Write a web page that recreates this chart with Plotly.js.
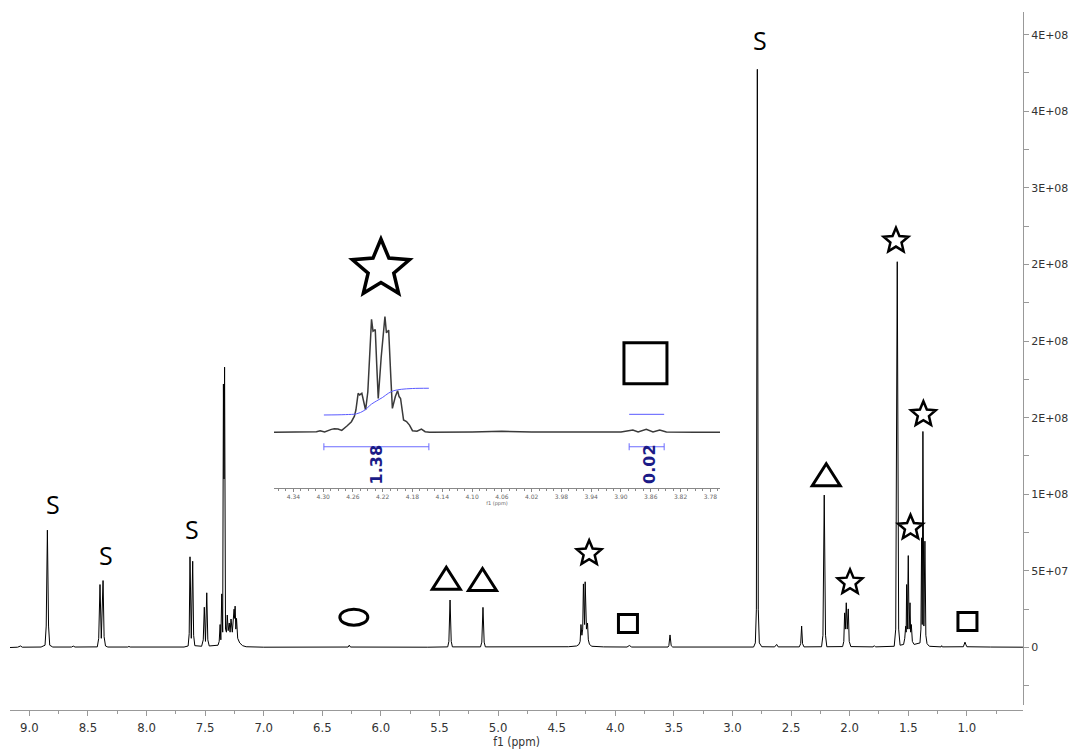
<!DOCTYPE html>
<html>
<head>
<meta charset="utf-8">
<script src="https://cdn.plot.ly/plotly-3.0.1.min.js"></script>
<style>html,body{margin:0;padding:0;background:#fff;}#chart{width:1075px;height:749px;}</style>
</head>
<body>
<div id="chart"></div>
<script>
// ---- Main 1H NMR trace (ppm, intensity) ----
var mainPpm = [
  9.165, 9.10, 9.075, 9.06, 8.90, 8.866, 8.856, 8.846, 8.836, 8.826, 8.80,
  8.64, 8.625, 8.61, 8.42, 8.408, 8.397, 8.386, 8.371, 8.362, 8.35, 8.33,
  8.16, 8.15, 8.14, 7.70, 7.69, 7.68,
  7.645, 7.636, 7.629, 7.618, 7.606, 7.598, 7.588,
  7.53, 7.516, 7.507, 7.497, 7.486, 7.477, 7.465,
  7.39, 7.380, 7.372, 7.366, 7.358, 7.350, 7.344, 7.339, 7.334, 7.326,
  7.318, 7.311, 7.303, 7.294, 7.287, 7.279, 7.268, 7.253, 7.249, 7.244, 7.238, 7.232, 7.222, 7.205, 7.18, 7.15,
  7.0, 6.50, 6.28, 6.27, 6.26, 5.60,
  5.43, 5.420, 5.410, 5.400, 5.39,
  5.15, 5.139, 5.129, 5.119, 5.109,
  4.50, 4.40, 4.33, 4.31, 4.30, 4.293, 4.285, 4.278, 4.272, 4.269, 4.266, 4.262, 4.257, 4.254, 4.251, 4.246, 4.237, 4.23, 4.22, 4.20,
  4.10, 3.90, 3.88, 3.86,
  3.55, 3.543, 3.533, 3.523, 3.51,
  3.00, 2.95, 2.93, 2.82, 2.805, 2.796, 2.788, 2.780, 2.771, 2.75,
  2.64, 2.623, 2.61, 2.43, 2.418, 2.410, 2.402, 2.39,
  2.24, 2.228, 2.217, 2.206, 2.195,
  2.06, 2.050, 2.043, 2.037, 2.029, 2.021, 2.012, 2.004, 1.99,
  1.80, 1.79, 1.78, 1.62, 1.607, 1.594, 1.582, 1.570,
  1.54, 1.530, 1.522, 1.518, 1.514, 1.508, 1.500, 1.493, 1.485, 1.480, 1.474, 1.465, 1.45,
  1.40, 1.392, 1.386, 1.381, 1.375, 1.367, 1.358, 1.350, 1.34, 1.32,
  1.22, 1.215, 1.21, 1.03, 1.022, 1.016, 1.010, 1.000, 0.80, 0.521
];
var mainInt = [
  0, 2e5, 1.0e6, 2e5, 3e5, 1.5e6, 1.4e7, 7.66e7, 1.4e7, 1.5e6, 3e5,
  3e5, 9e5, 3e5, 4e5, 6e6, 4.11e7, 6e6, 4.37e7, 7e6, 1e6, 3e5,
  3e5, 7e5, 3e5, 3e5, 6e5, 3e5,
  1e6, 9e6, 5.92e7, 6e6, 5.63e7, 8e6, 1.2e6,
  8e5, 5e6, 2.63e7, 4e6, 3.57e7, 5e6, 1e6,
  1.5e6, 4e6, 1.5e7, 5e6, 3.5e7, 1.0e7, 1.72e8, 1.1e8, 1.83e8, 1.2e7,
  1.0e7, 2.12e7, 1.1e7, 1.6e7, 1.0e7, 1.86e7, 1.0e7, 2.5e7, 1.9e7, 2.7e7, 1.2e7, 1.9e7, 6e6, 3e6, 1.2e6, 5e5,
  2e5, 2e5, 3e5, 1.5e6, 3e5, 2e5,
  4e5, 4e6, 3.1e7, 4e6, 4e5,
  4e5, 3.5e6, 2.62e7, 3.5e6, 4e5,
  3e5, 5e5, 1e6, 2e6, 4e6, 1.5e7, 8e6, 1.2e7, 4.15e7, 3.0e7, 3.7e7, 1.5e7, 4.29e7, 3.2e7, 3.7e7, 1.2e7, 1.6e7, 5e6, 2e6, 8e5,
  4e5, 3e5, 1.3e6, 3e5,
  3e5, 1.2e6, 8.2e6, 1.2e6, 3e5,
  3e5, 6e5, 2e5, 3e5, 3e6, 2.5e7, 3.774e8, 2.5e7, 3e6, 5e5,
  4e5, 2e6, 4e5, 4e5, 2.5e6, 1.4e7, 2.5e6, 4e5,
  5e5, 8e6, 9.95e7, 8e6, 5e5,
  6e5, 4e6, 2.26e7, 1.2e7, 2.92e7, 1.2e7, 2.52e7, 4e6, 6e5,
  4e5, 1.2e6, 4e5, 8e5, 1.2e7, 2.518e8, 1.2e7, 1.5e6,
  2e6, 6e6, 1.39e7, 1.0e7, 4.11e7, 1.2e7, 6.0e7, 1.2e7, 2.92e7, 1e7, 1.5e7, 4e6, 2e6,
  3e6, 1.2e7, 7.16e7, 1.5e7, 1.41e8, 1.4e7, 6.94e7, 8e6, 2.5e6, 8e5,
  4e5, 1.2e6, 4e5, 5e5, 2.2e6, 3.5e6, 2.2e6, 5e5, 3e5, 2e5
];

// ---- Inset (expanded 4.36-3.77 ppm region) ----
var insetPpm = [
  4.366, 4.320, 4.309, 4.304, 4.298, 4.289, 4.285, 4.280, 4.275, 4.268, 4.262, 4.258, 4.256,
  4.253, 4.251, 4.248, 4.245, 4.243, 4.240, 4.235, 4.233, 4.230, 4.228, 4.226, 4.222,
  4.217, 4.215, 4.212, 4.209, 4.207, 4.203, 4.200, 4.198, 4.196, 4.192, 4.188, 4.184,
  4.180, 4.174, 4.168, 4.163, 4.157, 4.10, 4.060, 4.02, 3.90, 3.884, 3.877, 3.866,
  3.857, 3.848, 3.839, 3.80, 3.767
];
var insetInt = [
  0, 1.2e5, 2.5e5, 6.2e5, 1.2e5, 1.1e6, 1.36e6, 1.24e6, 7.4e5, 2.36e6, 3.97e6, 6.0e6, 8.3e6,
  1.45e7, 1.39e7, 1.45e7, 1.1e7, 8.3e6, 1.5e7, 4.2e7, 3.76e7, 3.82e7, 2.5e7, 1.26e7, 2.8e7,
  4.3e7, 3.7e7, 3.8e7, 2.0e7, 8.9e6, 1.33e7, 1.55e7, 1.33e7, 1.26e7, 4.6e6, 4.0e6, 2.7e6,
  6.2e5, 4e5, 1.24e6, 2.5e5, 0, 1e5, 4e5, 1e5, 1e5, 8.7e5, 1.2e5, 1.1e6,
  1.2e5, 8.7e5, 1.2e5, 0, 0
];
// integral curves
var integ1Ppm = [4.299, 4.27, 4.255, 4.245, 4.235, 4.228, 4.220, 4.212, 4.205, 4.195, 4.180, 4.158];
var integ1Val = [6.45e6, 6.6e6, 6.9e6, 8.1e6, 1.05e7, 1.17e7, 1.3e7, 1.46e7, 1.55e7, 1.6e7, 1.63e7, 1.64e7];
var integ2Ppm = [3.889, 3.842];
var integ2Val = [6.7e6, 6.7e6];
// integration ranges and values
var rangeStart = [4.299, 3.889];
var rangeEnd = [4.158, 3.842];
var integLabels = ['1.38', '0.02'];

// ---- axis tick labels ----
var yTickVals = [0, 5e7, 1e8, 1.5e8, 2e8, 2.5e8, 3e8, 3.5e8, 4e8];
var yTickText = ['0', '5E+07', '1E+08', '2E+08', '2E+08', '2E+08', '3E+08', '4E+08', '4E+08'];

// ---- build traces ----
var traces = [];
traces.push({x: mainPpm, y: mainInt, type: 'scatter', mode: 'lines',
  line: {color: '#000', width: 1}, xaxis: 'x', yaxis: 'y', hoverinfo: 'skip', showlegend: false});
traces.push({x: insetPpm, y: insetInt, type: 'scatter', mode: 'lines',
  line: {color: '#3a3a3a', width: 1.5}, xaxis: 'x2', yaxis: 'y2', hoverinfo: 'skip', showlegend: false});
traces.push({x: integ1Ppm, y: integ1Val, type: 'scatter', mode: 'lines', line: {color: '#5a5aff', width: 1, shape: 'spline'},
  xaxis: 'x2', yaxis: 'y2', hoverinfo: 'skip', showlegend: false});
traces.push({x: integ2Ppm, y: integ2Val, type: 'scatter', mode: 'lines', line: {color: '#5a5aff', width: 1},
  xaxis: 'x2', yaxis: 'y2', hoverinfo: 'skip', showlegend: false});
var barY = -5.36e6;
for (var i = 0; i < rangeStart.length; i++) {
  traces.push({x: [rangeStart[i], rangeEnd[i]], y: [barY, barY], type: 'scatter', mode: 'lines+markers',
    line: {color: '#6b6bff', width: 1}, marker: {symbol: 'line-ns-open', size: 5, color: '#6b6bff', line: {color: '#6b6bff', width: 1}},
    xaxis: 'x2', yaxis: 'y2', hoverinfo: 'skip', showlegend: false});
}

// ---- symbol shapes ----
function starPath(r, k) {
  var pts = [];
  for (var i = 0; i < 10; i++) {
    var a = Math.PI / 2 + i * Math.PI / 5;
    var rr = (i % 2 === 0) ? r : r * k;
    pts.push((rr * Math.cos(a)).toFixed(2) + ',' + (rr * Math.sin(a)).toFixed(2));
  }
  return 'M' + pts.join('L') + 'Z';
}
function triPath(w, h) { return 'M' + (-w/2) + ',' + (-h/2) + 'L' + (w/2) + ',' + (-h/2) + 'L0,' + (h/2) + 'Z'; }
function sqPath(w, h) { return 'M' + (-w/2) + ',' + (-h/2) + 'L' + (w/2) + ',' + (-h/2) + 'L' + (w/2) + ',' + (h/2) + 'L' + (-w/2) + ',' + (h/2) + 'Z'; }
function sym(path, xref, yref, xa, ya, lw) {
  return {type: 'path', path: path, xref: xref, yref: yref, xsizemode: 'pixel', ysizemode: 'pixel',
    xanchor: xa, yanchor: ya, line: {color: '#000', width: lw}, fillcolor: 'rgba(0,0,0,0)', layer: 'above'};
}
var smallStar = starPath(13, 0.45);
var shapes = [
  sym(smallStar, 'x', 'y', 4.223, 6.15e7, 2.5),
  sym(smallStar, 'x', 'y', 1.997, 4.25e7, 2.5),
  sym(smallStar, 'x', 'y', 1.605, 2.655e8, 2.5),
  sym(smallStar, 'x', 'y', 1.481, 7.82e7, 2.5),
  sym(smallStar, 'x', 'y', 1.371, 1.522e8, 2.5),
  sym(triPath(28, 22), 'x', 'y', 5.442, 4.52e7, 3),
  sym(triPath(28, 22), 'x', 'y', 5.133, 4.44e7, 3),
  sym(triPath(28, 22), 'x', 'y', 2.200, 1.128e8, 3),
  sym(sqPath(19, 18), 'x', 'y', 3.892, 1.57e7, 3),
  sym(sqPath(19, 18), 'x', 'y', 0.995, 1.70e7, 3),
  {type: 'circle', xref: 'x', yref: 'y', xsizemode: 'pixel', ysizemode: 'pixel', xanchor: 6.231, yanchor: 1.98e7,
    x0: -14, x1: 14, y0: -8, y1: 8, line: {color: '#000', width: 3}, fillcolor: 'rgba(0,0,0,0)'},
  sym(starPath(30, 0.45), 'paper', 'paper', 0.3662, 0.6318, 3.5),
  sym(sqPath(43, 41), 'paper', 'paper', 0.6273, 0.4967, 3)
];

var sFont = {family: 'Open Sans, DejaVu Sans, sans-serif', size: 25, color: '#000'};
var annotations = [
  {x: 8.795, y: 9.38e7, xref: 'x', yref: 'y', text: 'S', showarrow: false, font: sFont},
  {x: 8.350, y: 6.04e7, xref: 'x', yref: 'y', text: 'S', showarrow: false, font: sFont},
  {x: 7.616, y: 7.72e7, xref: 'x', yref: 'y', text: 'S', showarrow: false, font: sFont},
  {x: 2.765, y: 3.967e8, xref: 'x', yref: 'y', text: 'S', showarrow: false, font: sFont}
];
var labelPos = [4.228, 3.862];
for (var j = 0; j < integLabels.length; j++) {
  annotations.push({x: labelPos[j], y: -1.2e7, xref: 'x2', yref: 'y2', text: '<b>' + integLabels[j] + '</b>',
    textangle: -90, showarrow: false, font: {family: 'DejaVu Sans, Verdana, sans-serif', size: 16, color: '#1b1b87'}});
}

var condFont = 'DejaVu Sans Condensed, Liberation Sans Narrow, DejaVu Sans, sans-serif';
var layout = {
  width: 1075, height: 749,
  margin: {l: 10, r: 52, t: 12, b: 39},
  paper_bgcolor: '#fff', plot_bgcolor: 'rgba(0,0,0,0)',
  showlegend: false,
  xaxis: {
    domain: [0, 1], range: [9.165, 0.521], anchor: 'free', position: 0,
    showline: true, linecolor: '#999', linewidth: 1, mirror: false,
    ticks: 'outside', ticklen: 5, tickcolor: '#999', tickwidth: 1,
    tick0: 0, dtick: 0.5, tickformat: '.1f',
    minor: {dtick: 0.25, tick0: 0, ticks: 'outside', ticklen: 3, tickcolor: '#999', showgrid: false},
    tickfont: {family: condFont, size: 13, color: '#333'},
    title: {text: 'f1 (ppm)', font: {family: condFont, size: 12, color: '#333'}, standoff: 2},
    showgrid: false, zeroline: false, automargin: false
  },
  yaxis: {
    domain: [0.00716, 1], range: [-3.753e7, 4.148e8], anchor: 'x', side: 'right',
    showline: true, linecolor: '#999', linewidth: 1,
    ticks: 'outside', ticklen: 5, tickcolor: '#999',
    tickmode: 'array', tickvals: yTickVals, ticktext: yTickText,
    minor: {tick0: 0, dtick: 2.5e7, ticks: 'outside', ticklen: 5, tickcolor: '#999', showgrid: false},
    tickfont: {family: 'DejaVu Sans, Verdana, sans-serif', size: 11, color: '#333'},
    showgrid: false, zeroline: false, automargin: false
  },
  xaxis2: {
    domain: [0.2606, 0.7009], range: [4.366, 3.767], anchor: 'y2',
    showline: true, linecolor: '#888', linewidth: 1,
    ticks: 'outside', ticklen: 3, tickcolor: '#888',
    tick0: 3.78, dtick: 0.04, tickformat: '.2f',
    minor: {tick0: 3.78, dtick: 0.01, ticks: 'outside', ticklen: 2, tickcolor: '#888', showgrid: false},
    tickfont: {family: 'DejaVu Sans, sans-serif', size: 6, color: '#666'},
    title: {text: 'f1 (ppm)', font: {family: 'DejaVu Sans, sans-serif', size: 5, color: '#666'}, standoff: 0},
    showgrid: false, zeroline: false, automargin: false
  },
  yaxis2: {
    domain: [0.318, 0.5874], range: [-2.07e7, 4.92e7], anchor: 'x2', visible: false,
    showgrid: false, zeroline: false
  },
  shapes: shapes,
  annotations: annotations
};

Plotly.newPlot('chart', traces, layout, {staticPlot: true, displayModeBar: false});
</script>
</body>
</html>
